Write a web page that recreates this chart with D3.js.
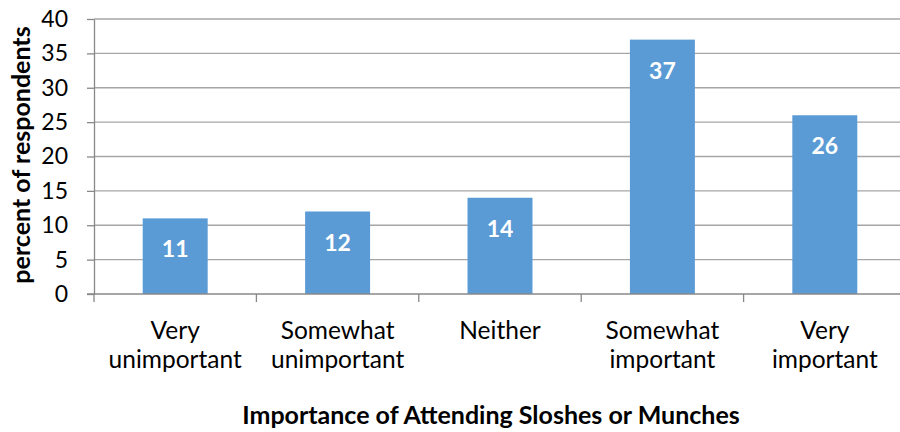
<!DOCTYPE html>
<html>
<head>
<meta charset="utf-8">
<script src="https://cdn.jsdelivr.net/npm/d3@7"></script>
<style>
  body { margin: 0; background: #fff; }
  svg { display: block; font-family: Lato, "Open Sans", sans-serif; }
</style>
</head>
<body>
<script>
// 数据
const categories = [["Very", "unimportant"], ["Somewhat", "unimportant"], ["Neither"], ["Somewhat", "important"], ["Very", "important"]];
const values = [11, 12, 14, 37, 26];
const yTicks = [0, 5, 10, 15, 20, 25, 30, 35, 40];

const width = 900, height = 432;
const margin = { top: 19, right: -6, bottom: 138, left: 94 };

const x = d3.scaleBand().domain(d3.range(values.length))
    .range([margin.left, width - margin.right]).paddingInner(0.6).paddingOuter(0.3);
const y = d3.scaleLinear().domain([0, 40]).range([height - margin.bottom, margin.top]);

const svg = d3.select("body").append("svg").attr("width", width).attr("height", height);

// 网格线
svg.append("g").selectAll("line").data(yTicks.filter(d => d > 0)).join("line")
    .attr("x1", margin.left).attr("x2", width - margin.right)
    .attr("y1", d => y(d)).attr("y2", d => y(d))
    .attr("stroke", "#a6a6a6").attr("stroke-width", 1.3);

// 柱子
svg.append("g").attr("fill", "#5b9bd5").selectAll("rect").data(values).join("rect")
    .attr("x", (d, i) => x(i))
    .attr("y", d => y(d))
    .attr("width", x.bandwidth())
    .attr("height", d => y(0) - y(d));

// 柱子标签
svg.append("g").selectAll("text").data(values).join("text")
    .attr("x", (d, i) => x(i) + x.bandwidth() / 2)
    .attr("y", d => y(d) + 39)
    .attr("text-anchor", "middle")
    .attr("fill", "#fff").attr("font-weight", "bold").attr("font-size", 23)
    .text(d => d);

// y轴
const gy = svg.append("g").attr("transform", `translate(${margin.left},0)`)
    .call(d3.axisLeft(y).tickValues(yTicks).tickSize(7).tickPadding(19).tickSizeOuter(0));
gy.select(".domain").attr("stroke", "#888").attr("stroke-width", 1.3);
gy.selectAll(".tick line").attr("stroke", "#888").attr("stroke-width", 1.3);
gy.selectAll(".tick text").attr("font-size", 23).attr("fill", "#000").attr("font-family", "Lato, sans-serif");

// x轴
const xEdge = d3.scaleLinear().domain([0, values.length]).range([margin.left, width - margin.right]);
const gx = svg.append("g").attr("transform", `translate(0,${y(0)})`);
gx.append("line").attr("x1", margin.left - 7).attr("x2", width).attr("stroke", "#888").attr("stroke-width", 1.3);
gx.selectAll("line.tk").data(d3.range(values.length + 1)).join("line").attr("class", "tk")
    .attr("x1", d => xEdge(d)).attr("x2", d => xEdge(d)).attr("y1", 0).attr("y2", 8)
    .attr("stroke", "#888").attr("stroke-width", 1.3);

const labels = gx.selectAll("text").data(categories).join("text")
    .attr("text-anchor", "middle")
    .attr("font-size", 24.5).attr("fill", "#000")
    .attr("transform", (d, i) => `translate(${x(i) + x.bandwidth() / 2},0)`);
labels.selectAll("tspan").data(d => d).join("tspan")
    .attr("x", 0).attr("y", (d, i) => 45 + i * 29).text(d => d);

// 轴标题
svg.append("text")
    .attr("transform", `translate(30,155) rotate(-90)`)
    .attr("text-anchor", "middle").attr("font-weight", "bold").attr("font-size", 25)
    .text("percent of respondents");
svg.append("text")
    .attr("x", 491).attr("y", 424)
    .attr("text-anchor", "middle").attr("font-weight", "bold").attr("font-size", 25)
    .text("Importance of Attending Sloshes or Munches");
</script>
</body>
</html>
